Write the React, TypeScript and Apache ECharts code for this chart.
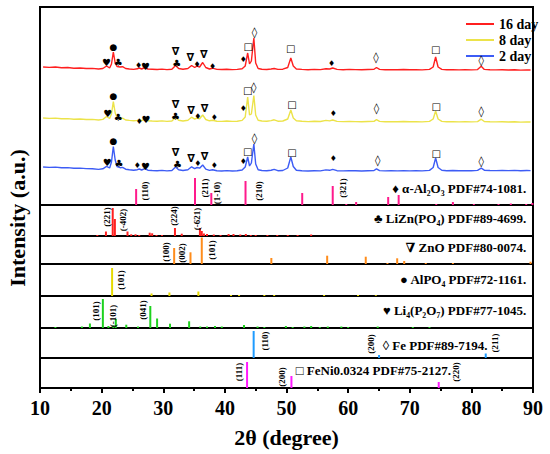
import React, { useEffect, useRef } from "react";
import * as echarts from "echarts";

// ---------- DATA ----------
const legendNames = ["16 day", "8 day", "2 day"];

const curve16: number[][] = [
  [10.5,138],[11.5,137.6],[12.5,138],[13.5,137.2],[14.5,137.5],[15.5,136.8],[16.5,137],[17.5,136.5],[18.5,136.6],[19.5,136],
  [20.2,136.5],[20.8,139],[21.3,137],[21.6,141],[21.9,153],[22.2,142],[22.5,138.5],[23.0,138],[23.4,138.3],[23.9,136.5],
  [24.5,136],[25.2,135.6],[25.8,136.2],[26.1,137],[26.5,136],[27.0,137.5],[27.5,136],[28.2,135.8],[29,135.5],[29.8,135.9],
  [30.6,135.4],[31.4,135.8],[32.0,139.5],[32.5,136.5],[33.2,135.8],[34.0,136.5],[34.6,139.5],[35.1,137.5],[35.5,139],[35.9,138],
  [36.4,142.5],[36.9,137.5],[37.5,136],[38.0,136.8],[38.7,135.6],[39.5,135.5],[40.3,135.8],[41.2,135.4],[42.0,135.6],[42.8,136.2],
  [43.3,139],[43.7,152],[44.0,141],[44.3,144],[44.7,167],[45.0,142],[45.4,136.5],[46.0,135.8],[46.8,135.5],[47.5,136],
  [48.0,136.5],[48.6,135.6],[49.4,135.8],[50.2,137.5],[50.7,147],[51.1,139],[51.6,136],[52.5,135.6],[53.5,135.3],[54.5,135.6],
  [55.5,135.4],[56.4,136.3],[57.0,136],[57.5,137],[58.2,135.6],[59.2,135.3],[60.2,135.6],[61.2,135.4],[62.2,135.2],[63.2,135.5],
  [64.2,135.7],[64.6,137.5],[65.1,135.6],[66,135.2],[67,135.4],[68,135.2],[69,135.5],[70,135.2],[71,135.3],[72,135.1],
  [73.2,135.6],[73.8,138],[74.2,148],[74.6,138],[75.2,135.6],[76,135.2],[77,135.4],[78,135.1],[79,135.3],[80,135.1],
  [81,135.4],[81.6,138.8],[82.1,135.6],[83,135.2],[84,135.1],[85,135.3],[86,135],[87,135.2],[88,134.9],[89,135.1],[89.6,135]
];

const curve8: number[][] = [
  [10.5,87],[11.5,86.6],[12.5,86.9],[13.5,86.2],[14.5,86.4],[15.5,85.8],[16.5,86],[17.5,85.5],[18.5,85.6],[19.5,85],
  [20.2,85.6],[20.8,88.5],[21.3,86.5],[21.6,91],[21.9,103.3],[22.2,92],[22.5,87.5],[23.0,86.5],[23.4,86.8],[23.9,85],
  [24.5,84.6],[25.2,84.2],[25.8,84.6],[26.1,85.3],[26.5,84.4],[27.0,85.8],[27.5,84.3],[28.2,84],[29,83.7],[29.8,84.1],
  [30.6,83.6],[31.4,84],[32.0,87.5],[32.5,84.8],[33.2,84],[34.0,84.8],[34.6,87.8],[35.1,85.8],[35.5,87],[35.9,86.2],
  [36.4,90],[36.9,85.5],[37.5,84.2],[38.0,84.8],[38.7,83.8],[39.5,83.6],[40.3,84],[41.2,83.6],[42.0,83.8],[42.8,84.6],
  [43.3,88],[43.7,108],[44.0,90],[44.3,91],[44.7,109.5],[45.0,90],[45.4,84.8],[46.0,84],[46.8,83.7],[47.5,84.4],
  [48.0,85.2],[48.6,83.8],[49.4,84],[50.2,86],[50.7,95],[51.1,87],[51.6,84.2],[52.5,83.7],[53.5,83.4],[54.5,83.7],
  [55.5,83.5],[56.4,84.6],[57.0,84.1],[57.5,85],[58.2,83.6],[59.2,83.4],[60.2,83.6],[61.2,83.4],[62.2,83.2],[63.2,83.5],
  [64.2,83.7],[64.6,85.4],[65.1,83.6],[66,83.2],[67,83.4],[68,83.2],[69,83.5],[70,83.2],[71,83.3],[72,83.1],
  [73.2,83.6],[73.8,86],[74.2,94],[74.6,86],[75.2,83.6],[76,83.2],[77,83.4],[78,83.1],[79,83.3],[80,83.1],
  [81,83.4],[81.6,85.8],[82.1,83.5],[83,83.2],[84,83.1],[85,83.3],[86,83],[87,83.2],[88,82.9],[89,83.1],[89.6,83]
];

const curve2: number[][] = [
  [10.5,38],[11.5,37.6],[12.5,37.9],[13.5,37.2],[14.5,37.4],[15.5,36.8],[16.5,36.9],[17.5,36.4],[18.5,36.3],[19.5,35.6],
  [20.2,36.2],[20.8,38.6],[21.3,37],[21.6,43],[21.9,58.5],[22.2,45],[22.5,38.5],[23.0,37.3],[23.4,37.6],[23.9,35.8],
  [24.5,35.2],[25.2,34.8],[25.8,35.3],[26.1,36],[26.5,35],[27.0,36.4],[27.5,34.8],[28.2,34.5],[29,34.2],[29.8,34.6],
  [30.6,34.1],[31.4,34.5],[32.0,38],[32.5,35.2],[33.2,34.5],[34.0,35.3],[34.6,38.2],[35.1,36.3],[35.5,37.5],[35.9,36.8],
  [36.4,40],[36.9,35.8],[37.5,34.6],[38.0,35.3],[38.7,34.2],[39.5,34],[40.3,34.4],[41.2,34],[42.0,34.2],[42.8,35],
  [43.3,38],[43.7,48],[44.0,39],[44.3,42],[44.7,61],[45.0,41],[45.4,35.3],[46.0,34.5],[46.8,34.2],[47.5,34.8],
  [48.0,35.6],[48.6,34.3],[49.4,34.5],[50.2,37],[50.7,48],[51.1,38.5],[51.6,34.8],[52.5,34.3],[53.5,34],[54.5,34.3],
  [55.5,34.1],[56.4,35.1],[57.0,34.7],[57.5,35.6],[58.2,34.3],[59.2,34.1],[60.2,34.4],[61.2,34.2],[62.2,34],[63.2,34.3],
  [64.2,34.5],[64.6,36.2],[65.1,34.4],[66,34.1],[67,34.3],[68,34.1],[69,34.4],[70,34.1],[71,34.3],[72,34.1],
  [73.2,34.6],[73.8,37.5],[74.2,47],[74.6,37.5],[75.2,34.7],[76,34.3],[77,34.5],[78,34.2],[79,34.4],[80,34.3],
  [81,34.6],[81.6,36.8],[82.1,34.8],[83,34.5],[84,34.4],[85,34.6],[86,34.4],[87,34.6],[88,34.3],[89,34.5],[89.6,34.4]
];

// peak markers [2θ, height, glyph]
const markers16: [number, number, string][] = [
  [20.8,143,"♥"],[21.9,158,"●"],[22.7,143,"♣"],[26.0,140,"♦"],[27.1,139,"♥"],[32.0,154,"∇"],[32.2,142,"♣"],
  [34.4,148,"∇"],[35.5,141,"♦"],[36.6,151,"∇"],[38.0,139,"♦"],[43.0,146,"♦"],[43.8,159,"□"],[44.8,173,"◊"],
  [50.7,157,"□"],[57.3,142,"♦"],[64.5,148,"◊"],[74.2,156,"□"],[81.6,145,"◊"]
];
const markers8: [number, number, string][] = [
  [21.0,92,"♥"],[21.9,109,"●"],[22.7,88,"♣"],[26.1,84,"♦"],[27.2,86,"♥"],[32.0,101,"∇"],[32.0,89,"♣"],
  [34.5,95,"∇"],[35.6,89,"♦"],[36.7,97,"∇"],[38.3,88,"♦"],[43.0,97,"♦"],[43.7,115,"□"],[44.7,118,"◊"],
  [50.9,101,"□"],[57.6,92,"♦"],[64.6,97,"◊"],[74.3,99,"□"],[81.6,94,"◊"]
];
const markers2: [number, number, string][] = [
  [20.9,43,"♥"],[21.9,64,"●"],[22.8,42,"♣"],[25.8,40,"♦"],[27.1,39,"♥"],[32.0,53,"∇"],[32.3,41,"♣"],
  [34.5,47,"∇"],[35.6,42,"♦"],[36.7,49,"∇"],[38.3,40,"♦"],[43.0,44,"♦"],[43.7,54,"□"],[44.8,67,"◊"],
  [50.9,53,"□"],[57.6,47,"♦"],[64.8,45,"◊"],[74.3,52,"□"],[81.6,44,"◊"]
];

// reference sticks [2θ, relative intensity]
const al2o3Sticks: number[][] = [
  [25.6,16],[35.15,27],[37.8,12],[43.35,24],[52.55,12],[57.5,19],[59.7,1],[61.3,3],[66.5,8],[68.2,10],
  [74.3,1],[77.0,3],[80.4,1],[84.4,1],[86.4,1.5],[88.9,1],[89.9,2]
];
const liznSticks: number[][] = [
  [19.3,1],[20.7,4.5],[21.8,28],[22.15,17],[24.2,4.5],[24.8,1.7],[25.5,1.7],[26.1,1],[27.8,3.3],[28.2,2.7],
  [28.9,1],[29.8,1],[31.9,8],[33.0,2.3],[35.95,8],[36.25,5],[36.6,2.5],[37.1,2],[38.2,1.5],[39.3,1],
  [40.6,2],[41.4,2],[42.5,1.5],[43.4,2],[44.2,1],[45.0,1],[46.9,1],[48.5,1],[50.2,1],[51.8,1],[54.0,1.5]
];
const znoSticks: number[][] = [
  [31.77,16],[34.42,11.7],[36.25,26.5],[47.54,6],[56.6,8.3],[62.86,7.3],[66.38,1],[67.96,5.7],[69.1,3],
  [72.6,1],[77.0,1],[89.6,2.3]
];
const alpo4Sticks: number[][] = [
  [21.7,28],[28.1,2.5],[31.0,3.5],[35.7,4.5],[41.0,1],[42.3,1],[46.4,1],[48.0,1],[56.1,1],[61.6,1],[64.5,0.8]
];
const li4p2o7Sticks: number[][] = [
  [12.5,1],[16.8,1.5],[18.1,4.5],[20.2,29],[21.1,2],[21.9,2.5],[22.3,9],[24.0,3.3],[25.9,1.5],[27.9,22],
  [29.0,9.5],[31.1,4.3],[34.2,6.7],[36.0,1.5],[37.1,1.5],[38.4,2],[39.5,1.5],[43.1,3],[45.3,1.5],[46.4,1],
  [49.9,2],[51.0,1],[52.9,1.5],[54.0,2],[55.4,1],[56.7,1.5],[58.9,1.5],[60.0,1],[64.8,1.5],[70.5,1],[73.2,1]
];
const feSticks: number[][] = [[44.67,27],[65.02,3],[82.33,4.5]];
const feniSticks: number[][] = [[43.6,26],[50.8,12],[74.7,6]];

// Miller index labels [2θ, height, text]
const al2o3Hkl: [number, number, string][] = [
  [27.1,14,"(110)"],[36.8,17,"(211)"],[38.8,12,"(1-10)"],[45.5,14,"(210)"],[59.1,17,"(321)"]
];
const liznHkl: [number, number, string][] = [
  [20.95,19,"(221)"],[23.4,16,"(-402)"],[31.8,20,"(224)"],[35.4,17,"(-621)"]
];
const znoHkl: [number, number, string][] = [[30.5,12,"(100)"],[33.1,11,"(002)"],[37.9,14,"(101)"]];
const alpo4Hkl: [number, number, string][] = [[23.1,16,"(101)"]];
const li4p2o7Hkl: [number, number, string][] = [[19.15,17,"(101)"],[21.8,12,"(-101)"],[26.7,18,"(041)"]];
const feHkl: [number, number, string][] = [[46.5,17,"(110)"],[63.7,14,"(200)"],[83.8,15,"(211)"]];
const feniHkl: [number, number, string][] = [[42.3,16,"(111)"],[49.3,11,"(200)"],[77.5,16,"(220)"]];

// phase captions [2θ, height, text]
const phaseRight: [number, number, string][][] = [
  [[88.9,17,"♦ α-Al₂O₃ PDF#74-1081."]],
  [[88.9,18,"♣ LiZn(PO₄) PDF#89-4699."]],
  [[88.9,17,"∇ ZnO PDF#80-0074."]],
  [[88.9,17,"● AlPO₄ PDF#72-1161."]],
  [[88.9,18,"♥ Li₄(P₂O₇) PDF#77-1045."]]
];
const phaseLeftFe: [number, number, string][] = [[65.6,13,"◊ Fe PDF#89-7194."]];
const phaseLeftFeNi: [number, number, string][] = [[51.5,18,"□ FeNi0.0324 PDF#75-2127."]];

const xTicks = [10, 20, 30, 40, 50, 60, 70, 80, 90];

// ---------- STYLE ----------
const FONT = "'Liberation Serif','Times New Roman','DejaVu Serif',serif";
const SYMFONT = "'DejaVu Sans','Liberation Serif',sans-serif";
const curveColors = ["#ff1f1f", "#ece34a", "#3d5cf5"];
const panels = [
  { top: 7, h: 198 },
  { top: 205, h: 31 },
  { top: 236, h: 28 },
  { top: 264, h: 32 },
  { top: 296, h: 32 },
  { top: 328, h: 30 },
  { top: 358, h: 30 },
];
const stickColors = ["#ff1a8c", "#ff2020", "#ff8c1a", "#e6da00", "#1ed21e", "#1e9bff", "#ff1aff"];
const glyphSize: Record<string, number> = { "♥": 10, "●": 9, "♣": 10, "♦": 8, "∇": 11, "◊": 11, "□": 10 };

function textSeries(grid: number, items: [number, number, string][], opts: any) {
  return {
    type: "custom",
    xAxisIndex: grid,
    yAxisIndex: grid,
    silent: true,
    z: 10,
    data: items.map((d) => [d[0], d[1]]),
    renderItem: (params: any, api: any) => {
      const it = items[params.dataIndex];
      const p = api.coord([it[0], it[1]]);
      const size = opts.glyph ? glyphSize[it[2]] || 10 : opts.fontSize;
      return {
        type: "text",
        x: p[0],
        y: p[1],
        rotation: opts.rotation || 0,
        style: {
          text: it[2],
          fill: "#000",
          fontSize: size,
          fontWeight: "bold",
          fontFamily: opts.glyph ? SYMFONT : FONT,
          align: opts.align || "center",
          verticalAlign: "middle",
        },
      };
    },
  };
}

function stickSeries(grid: number, data: number[][], color: string) {
  return {
    type: "bar",
    xAxisIndex: grid,
    yAxisIndex: grid,
    data,
    barWidth: 2,
    itemStyle: { color },
    silent: true,
    z: 3,
  };
}

export default function App() {
  const ref = useRef<HTMLDivElement>(null);
  useEffect(() => {
    if (!ref.current) return;
    const chart = echarts.init(ref.current, null, { renderer: "svg" });
    const grids = panels.map((p) => ({
      left: 40,
      right: 17,
      top: p.top,
      height: p.h,
      show: true,
      borderColor: "#000",
      borderWidth: 2,
      backgroundColor: "transparent",
      outerBoundsMode: "none",
    }));
    const xAxes = panels.map((_, i) => {
      const last = i === panels.length - 1;
      return {
        type: "value",
        gridIndex: i,
        min: xTicks[0],
        max: xTicks[xTicks.length - 1],
        interval: 10,
        show: last,
        name: last ? "2θ (degree)" : "",
        nameLocation: "middle",
        nameGap: 38,
        nameTextStyle: { fontSize: 22, fontWeight: "bold", fontFamily: FONT, color: "#000" },
        axisLine: { show: true, onZero: false, lineStyle: { color: "#000", width: 2 } },
        axisTick: { show: true, length: 5, lineStyle: { color: "#000", width: 2 } },
        minorTick: { show: true, splitNumber: 2, length: 3, lineStyle: { color: "#000", width: 2 } },
        axisLabel: { fontSize: 20, fontWeight: "bold", fontFamily: FONT, color: "#000", margin: 10 },
        splitLine: { show: false },
        minorSplitLine: { show: false },
      };
    });
    const yAxes = panels.map((p, i) => ({
      type: "value",
      gridIndex: i,
      min: 0,
      max: p.h,
      show: false,
    }));

    const series: any[] = [
      ...[curve16, curve8, curve2].map((d, i) => ({
        type: "line",
        name: legendNames[i],
        xAxisIndex: 0,
        yAxisIndex: 0,
        data: d,
        symbol: "none",
        lineStyle: { color: curveColors[i], width: 1.4 },
        itemStyle: { color: curveColors[i] },
        z: 5,
      })),
      stickSeries(0, al2o3Sticks, stickColors[0]),
      stickSeries(1, liznSticks, stickColors[1]),
      stickSeries(2, znoSticks, stickColors[2]),
      stickSeries(3, alpo4Sticks, stickColors[3]),
      stickSeries(4, li4p2o7Sticks, stickColors[4]),
      stickSeries(5, feSticks, stickColors[5]),
      stickSeries(6, feniSticks, stickColors[6]),
      textSeries(0, markers16, { glyph: true }),
      textSeries(0, markers8, { glyph: true }),
      textSeries(0, markers2, { glyph: true }),
      textSeries(0, al2o3Hkl, { fontSize: 9, rotation: Math.PI / 2 }),
      textSeries(1, liznHkl, { fontSize: 9, rotation: Math.PI / 2 }),
      textSeries(2, znoHkl, { fontSize: 9, rotation: Math.PI / 2 }),
      textSeries(3, alpo4Hkl, { fontSize: 9, rotation: Math.PI / 2 }),
      textSeries(4, li4p2o7Hkl, { fontSize: 9, rotation: Math.PI / 2 }),
      textSeries(5, feHkl, { fontSize: 9, rotation: Math.PI / 2 }),
      textSeries(6, feniHkl, { fontSize: 9, rotation: Math.PI / 2 }),
      ...phaseRight.map((items, i) => textSeries(i, items, { fontSize: 13, align: "right" })),
      textSeries(5, phaseLeftFe, { fontSize: 13, align: "left" }),
      textSeries(6, phaseLeftFeNi, { fontSize: 13, align: "left" }),
    ];

    chart.setOption({
      animation: false,
      backgroundColor: "#fff",
      grid: grids,
      xAxis: xAxes,
      yAxis: yAxes,
      legend: {
        data: legendNames,
        orient: "vertical",
        left: 461,
        top: 12,
        icon: "rect",
        itemWidth: 28,
        itemHeight: 2,
        itemGap: 2,
        textStyle: { fontSize: 14, fontWeight: "bold", fontFamily: FONT, color: "#000", lineHeight: 14 },
        selectedMode: false,
      },
      graphic: [
        {
          type: "text",
          x: 17.5,
          y: 218,
          rotation: Math.PI / 2,
          style: {
            text: "Intensity (a.u.)",
            fontSize: 22,
            fontWeight: "bold",
            fontFamily: FONT,
            fill: "#000",
            align: "center",
            verticalAlign: "middle",
          },
        },
      ],
      series,
    });
    return () => chart.dispose();
  }, []);
  return (
    <div
      ref={ref}
      style={{ position: "fixed", left: 0, top: 0, width: 550, height: 454, background: "#fff" }}
    />
  );
}
